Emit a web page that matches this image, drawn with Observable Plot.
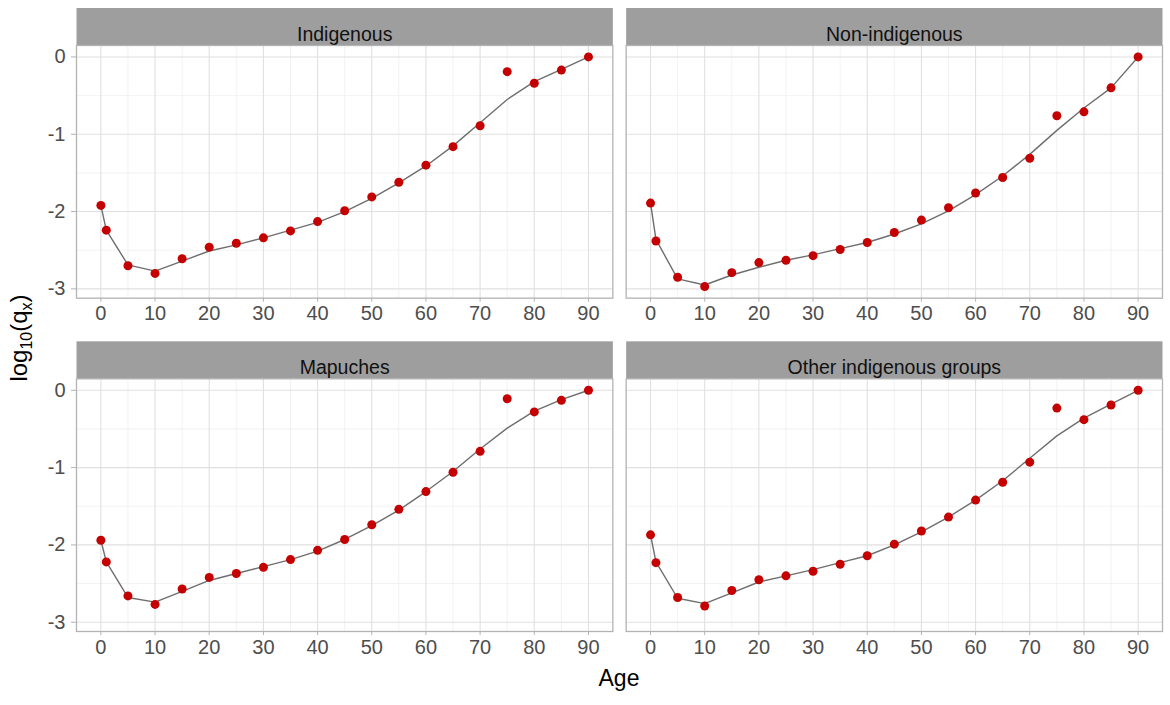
<!DOCTYPE html>
<html>
<head>
<meta charset="utf-8">
<script src="https://cdn.jsdelivr.net/npm/d3@7"></script>
<script src="https://cdn.jsdelivr.net/npm/@observablehq/plot@0.6"></script>
<style>
  html, body { margin: 0; padding: 0; background: #fff; }
  #chart { width: 1170px; height: 705px; }
</style>
</head>
<body>
<div id="chart"></div>
<script>
// ---- data ----
const groups = ["Indigenous", "Non-indigenous", "Mapuches", "Other indigenous groups"];
const ages = [0, 1, 5, 10, 15, 20, 25, 30, 35, 40, 45, 50, 55, 60, 65, 70, 75, 80, 85, 90];

const indigenousObs = [-1.92, -2.24, -2.70, -2.80, -2.61, -2.46, -2.41, -2.34, -2.25, -2.13, -1.99, -1.81, -1.62, -1.40, -1.16, -0.89, -0.19, -0.34, -0.17, 0];
const indigenousFit = [-1.92, -2.24, -2.69, -2.77, -2.64, -2.51, -2.43, -2.34, -2.24, -2.14, -2.00, -1.83, -1.63, -1.41, -1.15, -0.85, -0.55, -0.32, -0.16, 0];

const nonIndigenousObs = [-1.89, -2.38, -2.85, -2.97, -2.79, -2.66, -2.63, -2.57, -2.49, -2.40, -2.27, -2.11, -1.95, -1.76, -1.56, -1.31, -0.76, -0.71, -0.40, 0];
const nonIndigenousFit = [-1.89, -2.36, -2.87, -2.95, -2.82, -2.72, -2.63, -2.56, -2.48, -2.40, -2.29, -2.16, -1.99, -1.78, -1.54, -1.26, -0.95, -0.66, -0.40, 0];

const mapuchesObs = [-1.94, -2.22, -2.66, -2.77, -2.57, -2.42, -2.37, -2.29, -2.19, -2.07, -1.93, -1.74, -1.54, -1.31, -1.06, -0.79, -0.11, -0.28, -0.13, 0];
const mapuchesFit = [-1.94, -2.22, -2.68, -2.74, -2.60, -2.46, -2.37, -2.28, -2.19, -2.08, -1.93, -1.75, -1.55, -1.31, -1.05, -0.76, -0.49, -0.27, -0.12, 0];

const otherObs = [-1.87, -2.23, -2.68, -2.79, -2.59, -2.45, -2.40, -2.34, -2.25, -2.14, -1.99, -1.82, -1.64, -1.42, -1.19, -0.93, -0.23, -0.38, -0.19, 0];
const otherFit = [-1.87, -2.22, -2.69, -2.76, -2.62, -2.48, -2.40, -2.32, -2.23, -2.14, -2.00, -1.83, -1.64, -1.42, -1.17, -0.88, -0.59, -0.36, -0.18, 0];

const xTicks = [0, 10, 20, 30, 40, 50, 60, 70, 80, 90];
const xMinor = [5, 15, 25, 35, 45, 55, 65, 75, 85];
const yTicks = [-3, -2, -1, 0];
const yMinor = [-2.5, -1.5, -0.5];

// ---- build table ----
const obsByGroup = [indigenousObs, nonIndigenousObs, mapuchesObs, otherObs];
const fitByGroup = [indigenousFit, nonIndigenousFit, mapuchesFit, otherFit];
const table = groups.flatMap((g, gi) => ages.map((a, i) => ({
  group: g, col: gi % 2, row: Math.floor(gi / 2), age: a,
  value: obsByGroup[gi][i], fit: fitByGroup[gi][i]
})));
const strips = groups.map((g, gi) => ({group: g, col: gi % 2, row: Math.floor(gi / 2)}));

// ---- layout ----
const W = 1170, H = 705, mt = 45, mb = 74, ml = 76, mr = 8;
const pX = 0.0242, pY = 0.242;
const facetH = (H - mt - mb) / (2 - pY) * (1 - pY);
const stripH = 37.5;
const font = "'Liberation Sans', Arial, Helvetica, sans-serif";

const chart = Plot.plot({
  width: W, height: H,
  marginTop: mt, marginBottom: mb, marginLeft: ml, marginRight: mr,
  style: {fontFamily: font, fontSize: "20px", background: "#fff", color: "#4d4d4d", overflow: "visible"},
  fx: {axis: null, domain: [0, 1], paddingInner: pX, paddingOuter: 0, round: false},
  fy: {axis: null, domain: [0, 1], paddingInner: pY, paddingOuter: 0, round: false},
  x: {domain: [-4.5, 94.5], label: null},
  y: {domain: [-3.12, 0.148], label: null},
  marks: [
    Plot.frame({fill: "#9e9e9e", insetTop: -stripH, insetBottom: facetH}),
    Plot.text(strips, {fx: "col", fy: "row", text: "group", frameAnchor: "top", dy: -stripH / 2, fill: "#111", fontSize: 19.5}),
    Plot.gridX(xMinor, {stroke: "#efefef", strokeOpacity: 1, strokeWidth: 0.8}),
    Plot.gridY(yMinor, {stroke: "#efefef", strokeOpacity: 1, strokeWidth: 0.8}),
    Plot.gridX(xTicks, {stroke: "#e0e0e0", strokeOpacity: 1, strokeWidth: 1.1}),
    Plot.gridY(yTicks, {stroke: "#e0e0e0", strokeOpacity: 1, strokeWidth: 1.1}),
    Plot.line(table, {fx: "col", fy: "row", x: "age", y: "fit", z: "group", stroke: "#6e6e6e", strokeWidth: 1.4}),
    Plot.dot(table, {fx: "col", fy: "row", x: "age", y: "value", fill: "#c40000", r: 4.5}),
    Plot.frame({stroke: "#b3b3b3", strokeWidth: 1.3}),
    Plot.axisX({ticks: xTicks, tickSize: 4, tickPadding: 4, stroke: "#b3b3b3", fill: "#4d4d4d", fontSize: 20, label: null, facetAnchor: null}),
    Plot.axisY({ticks: yTicks, tickSize: 5, tickPadding: 6, tickFormat: d => String(d), stroke: "#b3b3b3", fill: "#4d4d4d", fontSize: 20, label: null})
  ]
});

document.getElementById("chart").appendChild(chart);

// axis titles
const svg = d3.select(chart);
svg.append("text")
  .attr("x", (ml + W - mr) / 2).attr("y", 686)
  .attr("text-anchor", "middle")
  .attr("fill", "#000").style("font-family", font).style("font-size", "23px")
  .text("Age");

const yt = svg.append("text")
  .attr("transform", `translate(27,${(mt + H - mb) / 2}) rotate(-90)`)
  .attr("text-anchor", "middle")
  .attr("fill", "#000").style("font-family", font).style("font-size", "24px");
yt.append("tspan").text("log");
yt.append("tspan").attr("dy", 5).style("font-size", "16px").text("10");
yt.append("tspan").attr("dy", -5).text("(q");
yt.append("tspan").attr("dy", 5).style("font-size", "16px").text("x");
yt.append("tspan").attr("dy", -5).text(")");
</script>
</body>
</html>
